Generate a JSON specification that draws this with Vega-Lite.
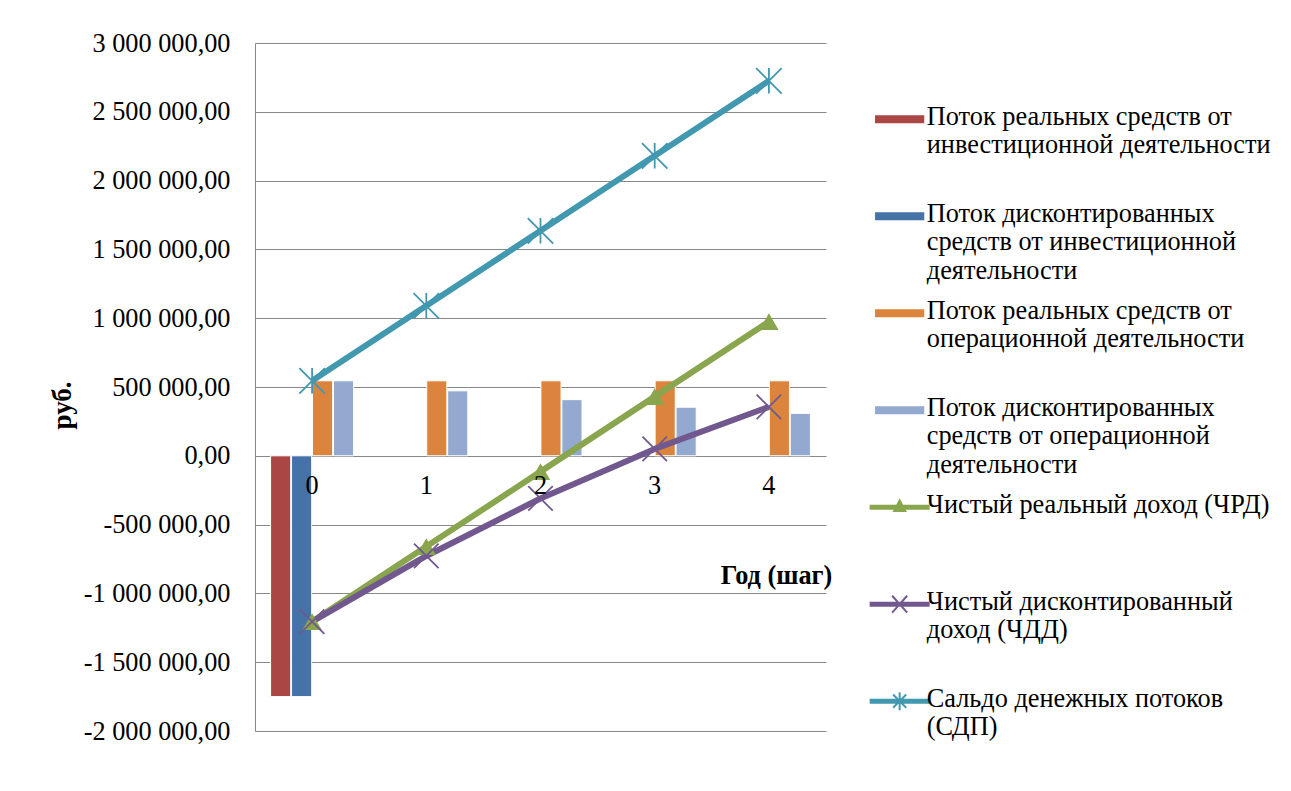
{
  "$schema": "https://vega.github.io/schema/vega-lite/v6.json",
  "width": 571,
  "height": 688,
  "autosize": {"type": "none"},
  "padding": {"left": 255, "top": 43, "right": 465, "bottom": 60},
  "background": "white",
  "config": {
    "font": "Liberation Serif",
    "view": {"stroke": null},
    "axis": {"labelFont": "Liberation Serif", "titleFont": "Liberation Serif", "labelColor": "#000", "titleColor": "#000"}
  },
  "data": {
    "values": [
      {"year": "0", "series": "Поток реальных средств от\nинвестиционной деятельности", "value": -1750000, "kind": "bar"},
      {"year": "0", "series": "Поток дисконтированных\nсредств от инвестиционной\nдеятельности", "value": -1750000, "kind": "bar"},
      {"year": "0", "series": "Поток реальных средств от\nоперационной деятельности", "value": 545000, "kind": "bar"},
      {"year": "1", "series": "Поток реальных средств от\nоперационной деятельности", "value": 545000, "kind": "bar"},
      {"year": "2", "series": "Поток реальных средств от\nоперационной деятельности", "value": 545000, "kind": "bar"},
      {"year": "3", "series": "Поток реальных средств от\nоперационной деятельности", "value": 545000, "kind": "bar"},
      {"year": "4", "series": "Поток реальных средств от\nоперационной деятельности", "value": 545000, "kind": "bar"},
      {"year": "0", "series": "Поток дисконтированных\nсредств от операционной\nдеятельности", "value": 545000, "kind": "bar"},
      {"year": "1", "series": "Поток дисконтированных\nсредств от операционной\nдеятельности", "value": 472000, "kind": "bar"},
      {"year": "2", "series": "Поток дисконтированных\nсредств от операционной\nдеятельности", "value": 408000, "kind": "bar"},
      {"year": "3", "series": "Поток дисконтированных\nсредств от операционной\nдеятельности", "value": 353000, "kind": "bar"},
      {"year": "4", "series": "Поток дисконтированных\nсредств от операционной\nдеятельности", "value": 308000, "kind": "bar"},
      {"year": "0", "series": "Чистый реальный доход (ЧРД)", "value": -1205000, "kind": "line"},
      {"year": "1", "series": "Чистый реальный доход (ЧРД)", "value": -660000, "kind": "line"},
      {"year": "2", "series": "Чистый реальный доход (ЧРД)", "value": -115000, "kind": "line"},
      {"year": "3", "series": "Чистый реальный доход (ЧРД)", "value": 430000, "kind": "line"},
      {"year": "4", "series": "Чистый реальный доход (ЧРД)", "value": 975000, "kind": "line"},
      {"year": "0", "series": "Чистый дисконтированный\nдоход (ЧДД)", "value": -1205000, "kind": "line"},
      {"year": "1", "series": "Чистый дисконтированный\nдоход (ЧДД)", "value": -728000, "kind": "line"},
      {"year": "2", "series": "Чистый дисконтированный\nдоход (ЧДД)", "value": -310000, "kind": "line"},
      {"year": "3", "series": "Чистый дисконтированный\nдоход (ЧДД)", "value": 50000, "kind": "line"},
      {"year": "4", "series": "Чистый дисконтированный\nдоход (ЧДД)", "value": 356000, "kind": "line"},
      {"year": "0", "series": "Сальдо денежных потоков\n(СДП)", "value": 545000, "kind": "line"},
      {"year": "1", "series": "Сальдо денежных потоков\n(СДП)", "value": 1090000, "kind": "line"},
      {"year": "2", "series": "Сальдо денежных потоков\n(СДП)", "value": 1635000, "kind": "line"},
      {"year": "3", "series": "Сальдо денежных потоков\n(СДП)", "value": 2180000, "kind": "line"},
      {"year": "4", "series": "Сальдо денежных потоков\n(СДП)", "value": 2725000, "kind": "line"}
    ]
  },
  "encoding": {
    "x": {
      "field": "year",
      "type": "ordinal",
      "scale": {"paddingInner": 0.273, "paddingOuter": 0.1365},
      "axis": {
        "title": "Год (шаг)",
        "titleFontSize": 26.3,
        "titleFontWeight": "bold",
        "titleX": 521,
        "titleY": 119,
        "titleAlign": "center",
        "titleBaseline": "middle",
        "offset": -275,
        "domain": false,
        "ticks": false,
        "zindex": 1,
        "labelAngle": 0,
        "labelFontSize": 26.3,
        "labelBaseline": "alphabetic",
        "labelPadding": 37
      }
    },
    "y": {
      "field": "value",
      "type": "quantitative",
      "stack": null,
      "scale": {"domain": [-2000000, 3000000], "nice": false, "zero": false},
      "axis": {
        "title": "руб.",
        "titleFontSize": 27,
        "titleFontWeight": "bold",
        "titleAngle": -90,
        "titleX": -193,
        "titleY": 362,
        "titleAlign": "center",
        "titleBaseline": "middle",
        "values": [-2000000, -1500000, -1000000, -500000, 0, 500000, 1000000, 1500000, 2000000, 2500000, 3000000],
        "labelExpr": "replace(replace(replace(format(datum.value, ',.2f'), regexp(',', 'g'), ' '), '.', ','), '−', '-')",
        "labelFontSize": 26.3,
        "labelPadding": 25,
        "ticks": false,
        "domainColor": "#878787",
        "gridColor": "#878787",
        "grid": true
      }
    }
  },
  "layer": [
    {
      "transform": [{"filter": "datum.kind == 'bar'"}],
      "mark": {"type": "bar", "stroke": "white", "strokeWidth": 1},
      "encoding": {
        "xOffset": {
          "field": "series",
          "scale": {
            "domain": [
              "Поток реальных средств от\nинвестиционной деятельности",
              "Поток дисконтированных\nсредств от инвестиционной\nдеятельности",
              "Поток реальных средств от\nоперационной деятельности",
              "Поток дисконтированных\nсредств от операционной\nдеятельности"
            ],
            "paddingInner": 0.04
          }
        },
        "color": {
          "field": "series",
          "type": "nominal",
          "legend": null,
          "scale": {
            "domain": [
              "Сальдо денежных потоков\n(СДП)",
              "Чистый дисконтированный\nдоход (ЧДД)",
              "Чистый реальный доход (ЧРД)",
              "Поток дисконтированных\nсредств от операционной\nдеятельности",
              "Поток реальных средств от\nоперационной деятельности",
              "Поток дисконтированных\nсредств от инвестиционной\nдеятельности",
              "Поток реальных средств от\nинвестиционной деятельности"
            ],
            "range": ["#4198AF", "#71588F", "#89A54E", "#93A9CF", "#DB843D", "#4572A7", "#AA4643"]
          }
        }
      }
    },
    {
      "transform": [{"filter": "datum.kind == 'line'"}],
      "mark": {"type": "line", "strokeWidth": 6, "strokeJoin": "round"},
      "encoding": {
        "color": {"field": "series", "type": "nominal", "legend": null}
      }
    },
    {
      "transform": [{"filter": "indexof(datum.series, '(ЧРД)') >= 0"}],
      "mark": {"type": "point", "shape": "triangle-up", "filled": true, "size": 380, "color": "#89A54E", "opacity": 1},
      "encoding": {}
    },
    {
      "transform": [{"filter": "indexof(datum.series, '(ЧДД)') >= 0"}],
      "mark": {"type": "point", "shape": "M-1,-1L1,1M-1,1L1,-1", "filled": false, "size": 600, "strokeWidth": 1.8, "color": "#71588F", "opacity": 1},
      "encoding": {}
    },
    {
      "transform": [{"filter": "indexof(datum.series, '(СДП)') >= 0"}],
      "mark": {"type": "point", "shape": "M-1,-1L1,1M-1,1L1,-1M0,-1V1", "filled": false, "size": 650, "strokeWidth": 1.8, "color": "#4198AF", "opacity": 1},
      "encoding": {}
    },
    {
      "description": "Key layer: invisible points that carry the legend (fill and shape per series).",
      "mark": {"type": "point", "filled": true, "opacity": 0},
      "encoding": {
        "fill": {
          "field": "series",
          "type": "nominal",
          "scale": {
            "domain": [
              "Поток реальных средств от\nинвестиционной деятельности",
              "Поток дисконтированных\nсредств от инвестиционной\nдеятельности",
              "Поток реальных средств от\nоперационной деятельности",
              "Поток дисконтированных\nсредств от операционной\nдеятельности",
              "Чистый реальный доход (ЧРД)",
              "Чистый дисконтированный\nдоход (ЧДД)",
              "Сальдо денежных потоков\n(СДП)"
            ],
            "range": ["#AA4643", "#4572A7", "#DB843D", "#93A9CF", "#89A54E", "#71588F", "#4198AF"]
          },
          "legend": {
            "orient": "none",
            "legendX": 631.5,
            "legendY": 48,
            "title": null,
            "padding": 0,
            "symbolSize": 100,
            "symbolOpacity": 1,
            "symbolStrokeWidth": 0,
            "labelFont": "Liberation Serif",
            "labelFontSize": 26.3,
            "labelColor": "#000",
            "labelLimit": 500,
            "labelOffset": 14,
            "rowPadding": 0,
            "labelBaseline": "top",
            "labelExpr": "slice(split(datum.label + '\\n \\n ', '\\n'), 0, 3)"
          }
        },
        "shape": {
          "field": "series",
          "type": "nominal",
          "scale": {
            "domain": [
              "Поток реальных средств от\nинвестиционной деятельности",
              "Поток дисконтированных\nсредств от инвестиционной\nдеятельности",
              "Поток реальных средств от\nоперационной деятельности",
              "Поток дисконтированных\nсредств от операционной\nдеятельности",
              "Чистый реальный доход (ЧРД)",
              "Чистый дисконтированный\nдоход (ЧДД)",
              "Сальдо денежных потоков\n(СДП)"
            ],
            "range": [
              "M-4.92,2.2H4.92V3.8H-4.92Z",
              "M-4.92,2.2H4.92V3.8H-4.92Z",
              "M-4.92,2.2H4.92V3.8H-4.92Z",
              "M-4.92,2.2H4.92V3.8H-4.92Z",
              "M-6,2.5H6V3.5H-6Z M0,1.2L1.44,3.96H-1.44Z",
              "M-6,2.5H6V3.5H-6Z M-1.649,1.452L-1.351,1.188L1.649,4.549L1.351,4.813Z M-1.351,4.813L-1.649,4.549L1.351,1.188L1.649,1.452Z",
              "M-6,2.5H6V3.5H-6Z M-1.457,1.818L-1.182,1.543L1.457,4.182L1.182,4.457Z M-1.182,4.457L-1.457,4.182L1.182,1.543L1.457,1.818Z M-0.198,1.2H0.198V4.8H-0.198Z"
            ]
          },
          "legend": {
            "orient": "none",
            "legendX": 631.5,
            "legendY": 48,
            "title": null,
            "padding": 0,
            "symbolSize": 100,
            "symbolOpacity": 1,
            "symbolStrokeWidth": 0,
            "labelFont": "Liberation Serif",
            "labelFontSize": 26.3,
            "labelColor": "#000",
            "labelLimit": 500,
            "labelOffset": 14,
            "rowPadding": 0,
            "labelBaseline": "top",
            "labelExpr": "slice(split(datum.label + '\\n \\n ', '\\n'), 0, 3)"
          }
        }
      }
    }
  ]
}
